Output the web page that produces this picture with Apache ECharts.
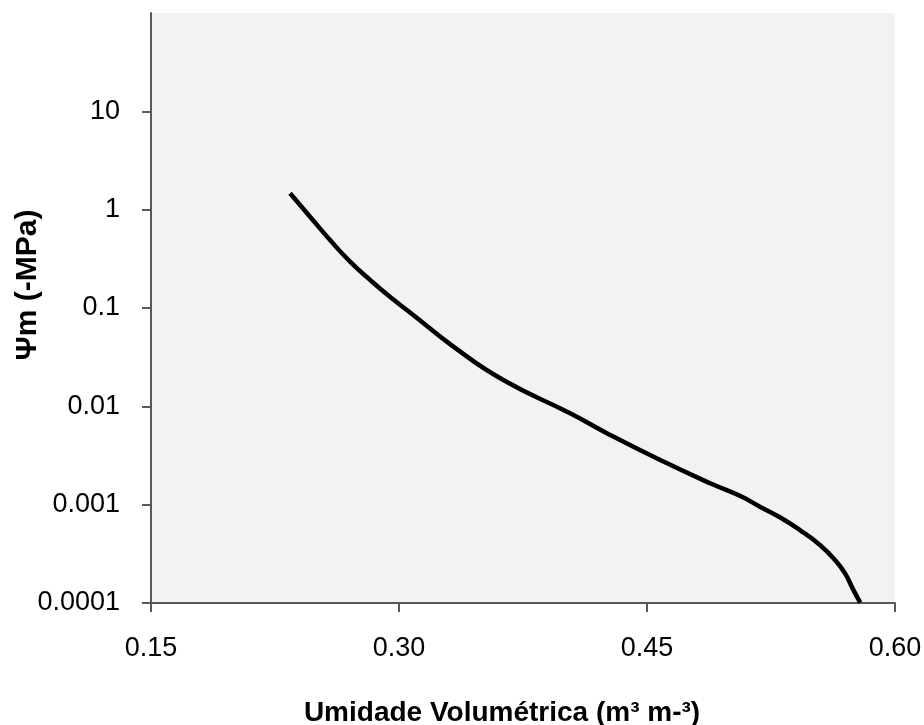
<!DOCTYPE html>
<html>
<head>
<meta charset="utf-8">
<script src="https://cdn.jsdelivr.net/npm/echarts@6/dist/echarts.min.js"></script>
<style>
  html, body { margin: 0; padding: 0; background: #fff; }
  #chart { width: 924px; height: 725px; }
</style>
</head>
<body>
<div id="chart"></div>
<script>
// umidade volumetrica (m3 m-3) vs potencial matricial (-MPa)
const theta = [0.2341, 0.2462, 0.2583, 0.2704, 0.2825, 0.2945, 0.3086, 0.3329,
               0.3631, 0.4035, 0.4277, 0.4580, 0.4882, 0.5062, 0.5183, 0.5304,
               0.5425, 0.5546, 0.5637, 0.5697, 0.5748, 0.5790];
const psi = [1.468, 0.848, 0.491, 0.296, 0.193, 0.130, 0.0849, 0.0405,
             0.0185, 0.00849, 0.00511, 0.00284, 0.00165, 0.00123, 0.000953, 0.000744,
             0.000552, 0.000389, 0.000274, 0.000201, 0.000136, 0.000101];
const yTicks = [0.0001, 0.001, 0.01, 0.1, 1, 10];
const yTickLabels = ['0.0001', '0.001', '0.01', '0.1', '1', '10'];
const xTicks = [0.15, 0.30, 0.45, 0.60];

const axisColor = '#595959';
const font = 'Liberation Sans, Arial, sans-serif';

const chart = echarts.init(document.getElementById('chart'));
chart.setOption({
    animation: false,
    backgroundColor: '#fff',
    grid: {
        left: 151,
        right: 29,
        top: 13,
        bottom: 122,
        outerBoundsMode: 'none',
        containLabel: false,
        show: true,
        backgroundColor: '#f2f2f2',
        borderWidth: 0
    },
    xAxis: {
        type: 'value',
        min: 0.15,
        max: 0.60,
        interval: 0.15,
        name: 'Umidade Volumétrica (m³ m-³)',
        nameLocation: 'middle',
        nameGap: 96,
        nameMoveOverlap: false,
        nameTextStyle: {
            fontFamily: font,
            fontSize: 28,
            fontWeight: 'bold',
            color: '#000',
            padding: [0, 42, 0, 0]
        },
        axisLine: { lineStyle: { color: axisColor, width: 2 } },
        axisTick: { length: 9, lineStyle: { color: axisColor, width: 2 }, customValues: xTicks },
        axisLabel: {
            margin: 32,
            fontFamily: font,
            fontSize: 27,
            color: '#000',
            customValues: xTicks,
            formatter: v => v.toFixed(2)
        },
        splitLine: { show: false }
    },
    yAxis: {
        type: 'log',
        logBase: 10,
        min: 0.0001,
        max: 100,
        name: 'Ψm (-MPa)',
        nameLocation: 'middle',
        nameGap: 108,
        nameMoveOverlap: false,
        nameTextStyle: {
            fontFamily: font,
            fontSize: 30,
            fontWeight: 'bold',
            color: '#000',
            padding: [0, 0, 0, 46]
        },
        axisLine: { show: true, lineStyle: { color: axisColor, width: 2 } },
        axisTick: { show: true, length: 9, lineStyle: { color: axisColor, width: 2 }, customValues: yTicks },
        axisLabel: {
            margin: 31,
            fontFamily: font,
            fontSize: 27,
            color: '#000',
            customValues: yTicks,
            formatter: v => yTickLabels[Math.round(Math.log10(v)) + 4]
        },
        splitLine: { show: false }
    },
    series: [{
        type: 'line',
        data: theta.map((t, i) => [t, psi[i]]),
        smooth: 0.5,
        showSymbol: false,
        lineStyle: { color: '#000', width: 4.5 }
    }]
});
</script>
</body>
</html>
